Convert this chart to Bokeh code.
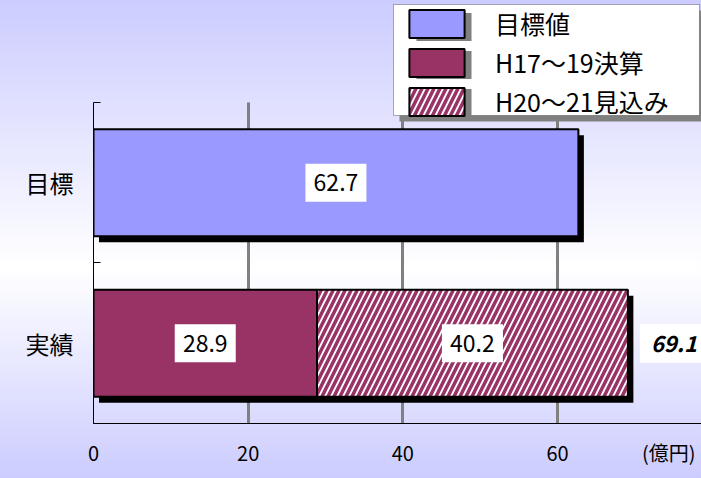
from bokeh.plotting import figure
from bokeh.models import (Range1d, FixedTicker, ColumnDataSource, Legend, LegendItem,
                          BoxAnnotation, Label)
from bokeh.embed import file_html
from bokeh.resources import INLINE
from bokeh.core.properties import value

# ---- data ----
categories = ["目標", "実績"]
target_values = [62.7]          # 目標値
settled_values = [28.9]         # H17〜19決算
forecast_values = [40.2]        # H20〜21見込み
x_ticks = [0, 20, 40, 60]
series_names = ["目標値", "H17〜19決算", "H20〜21見込み"]
unit_label = "(億円)"

# ---- style / layout constants ----
FONT = "Noto Sans CJK JP"
BLUE = "#9999FF"
MAROON = "#993366"
W, H = 701, 478
X_END = 78.62          # frame spans 608 px
Y_TOP_PAD = 0.6355     # room above the category area for the legend
UNIT_X = 74.4          # where the unit text sits on the value axis
BAR_H = 0.667
SHX, SHY = 0.71, 0.037

n = len(categories)
y_pos = [n - i - 0.5 for i in range(n)]
y_target, y_actual = y_pos[0], y_pos[1]
settled = settled_values[0]
forecast = forecast_values[0]
total = settled + forecast

p = figure(width=W, height=H, x_range=Range1d(0, X_END), y_range=Range1d(0, n + Y_TOP_PAD),
           output_backend="svg", toolbar_location=None,
           min_border_left=93, min_border_right=0, min_border_top=0, min_border_bottom=55)
p.background_fill_color = None
p.border_fill_color = None
p.outline_line_color = None
p.styles = {"background-image": "linear-gradient(to bottom, #ccccff 0%, #ffffff 56%, #ccccff 100%)"}

# x axis
p.xaxis.ticker = FixedTicker(ticks=x_ticks + [UNIT_X])
p.xaxis.major_label_overrides = {UNIT_X: unit_label}
p.xaxis.major_tick_in = 0
p.xaxis.major_tick_out = 0
p.xaxis.minor_tick_line_color = None
p.xaxis.axis_line_color = "black"
p.xaxis.major_label_text_font = FONT
p.xaxis.major_label_text_font_size = "20px"
p.xaxis.major_label_text_color = "black"
p.xaxis.major_label_standoff = 14

# y axis
p.yaxis.ticker = FixedTicker(ticks=y_pos, minor_ticks=list(range(n + 1)))
p.yaxis.major_label_overrides = {float(y): c for y, c in zip(y_pos, categories)}
p.yaxis.bounds = (0, n)
p.yaxis.major_tick_line_color = None
p.yaxis.major_tick_in = 0
p.yaxis.major_tick_out = 0
p.yaxis.minor_tick_in = 7
p.yaxis.minor_tick_out = 0
p.yaxis.minor_tick_line_color = "black"
p.yaxis.axis_line_color = "black"
p.yaxis.major_label_text_font = FONT
p.yaxis.major_label_text_font_size = "24px"
p.yaxis.major_label_text_color = "black"
p.yaxis.major_label_standoff = 20

p.xgrid.ticker = FixedTicker(ticks=[t for t in x_ticks if t > 0])
p.xgrid.cross_bounds = (0, n)
p.xgrid.grid_line_color = "#808080"
p.xgrid.grid_line_width = 3
p.ygrid.grid_line_color = None

# shadows
p.hbar(y=[y_target - SHY, y_actual - SHY], left=SHX,
       right=[target_values[0] + SHX, total + SHX], height=BAR_H,
       fill_color="black", line_color=None)

# bars
r1 = p.hbar(y=[y_target], left=0, right=target_values, height=BAR_H,
            fill_color=BLUE, line_color="black", line_width=2)
r2 = p.hbar(y=[y_actual], left=0, right=settled_values, height=BAR_H,
            fill_color=MAROON, line_color="black", line_width=2)
r3 = p.hbar(y=[y_actual], left=settled_values, right=[total], height=BAR_H,
            fill_color="white", hatch_pattern="right_diagonal_line", hatch_color=MAROON,
            hatch_weight=3.5, hatch_scale=12, line_color="black", line_width=2)

# value labels
lab = ColumnDataSource(dict(
    x=[target_values[0] / 2, settled / 2, settled + forecast / 2],
    y=[y_target, y_actual, y_actual],
    t=[f"{target_values[0]:.1f}", f"{settled:.1f}", f"{forecast:.1f}"]))
p.rect(x="x", y="y", width=61, height=38, width_units="screen", height_units="screen",
       source=lab, fill_color="white", line_color=None)
p.text(x="x", y="y", text="t", source=lab, text_align="center", text_baseline="middle",
       text_font=value(FONT), text_font_size="23px", text_color="black")

p.add_layout(Label(x=total, y=y_actual, x_units="data", y_units="data", text=f"{total:.1f}",
                   x_offset=12, text_align="left", text_baseline="middle",
                   text_font=FONT, text_font_size="22px", text_font_style="bold italic",
                   text_color="black", background_fill_color="white", padding=11))

# legend box + shadows (screen units, relative to the frame)
def sbox(l, r, b, t, **kw):
    return BoxAnnotation(left=l, right=r, bottom=b, top=t, left_units="screen",
                         right_units="screen", bottom_units="screen", top_units="screen",
                         fill_alpha=1, **kw)

p.add_layout(sbox(306, 612, 302, 413, fill_color="#808080", line_color=None))
p.add_layout(sbox(300, 606, 308, 419, fill_color="white", line_color="black", line_width=1))
for i in range(3):
    p.add_layout(sbox(323, 378, 423 - (40.5 + 38 * i), 423 - (12.5 + 38 * i),
                      fill_color="#808080", line_color=None))

legend = Legend(items=[LegendItem(label=s, renderers=[r]) for s, r in zip(series_names, [r1, r2, r3])],
                location=(309, 304), glyph_width=69, glyph_height=35, label_standoff=24,
                spacing=3, padding=3, margin=0, background_fill_alpha=0, border_line_color=None,
                label_text_font=FONT, label_text_font_size="25px", label_height=35,
                label_text_color="black")
p.add_layout(legend)

open("out.html", "w").write(file_html(p, INLINE))
